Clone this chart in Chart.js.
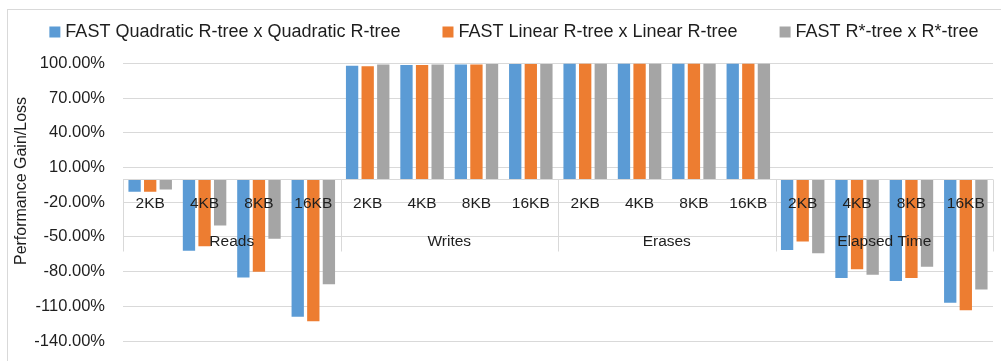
<!DOCTYPE html>
<html>
<head>
<meta charset="utf-8">
<script src="https://cdn.jsdelivr.net/npm/chart.js@4/dist/chart.umd.min.js"></script>
<style>
  html, body { margin: 0; padding: 0; background: #fff; }
  #wrap { width: 1001px; height: 361px; }
</style>
</head>
<body>
<div id="wrap"><canvas id="perfChart"></canvas></div>
<script>
  // categories: block size inside each operation
  const sizes = ['2KB', '4KB', '8KB', '16KB'];
  const groups = ['Reads', 'Writes', 'Erases', 'Elapsed Time'];

  // performance gain/loss per configuration (%)
  const quadratic = [-11, -62, -85, -119, 98, 98.7, 99.2, 99.6, 100, 100, 100, 100, -61.3, -85.6, -88.2, -107];
  const linear = [-11, -58, -80, -123, 97.7, 98.7, 99.2, 99.6, 100, 100, 100, 100, -54, -78, -85.6, -113.4];
  const rstar = [-9, -40, -51.5, -91, 99.1, 99.2, 99.6, 99.6, 100, 100, 100, 100, -64.2, -82.7, -75.8, -95.4];

  const seriesNames = ['FAST Quadratic R-tree x Quadratic R-tree', 'FAST Linear R-tree x Linear R-tree', 'FAST R*-tree x R*-tree'];
  const seriesColors = ['#5b9bd5', '#ed7d31', '#a5a5a5'];
  const yTicks = [-140, -110, -80, -50, -20, 10, 40, 70, 100];

  const labels = [];
  groups.forEach(g => sizes.forEach(s => labels.push(s)));

  const FONT = '"Liberation Sans", Arial, sans-serif';
  const TEXT = '#1e1e1e';
  const GRID = '#d9d9d9';

  // one-row legend, centred above the plot
  const legendRow = {
    id: 'legendRow',
    afterDraw(chart) {
      const ctx = chart.ctx;
      ctx.save();
      ctx.font = '18px ' + FONT;
      ctx.textBaseline = 'middle';
      const box = 11, gap = 5, spacing = 42;
      const widths = seriesNames.map(n => box + gap + ctx.measureText(n).width);
      const total = widths.reduce((a, b) => a + b, 0) + spacing * (widths.length - 1);
      let lx = 514 - total / 2;
      const ly = 32;
      seriesNames.forEach((n, i) => {
        ctx.fillStyle = seriesColors[i];
        ctx.fillRect(lx, ly - 5.5, box, box);
        ctx.fillStyle = TEXT;
        ctx.fillText(n, lx + box + gap, ly);
        lx += widths[i] + spacing;
      });
      ctx.restore();
    }
  };

  // draws the two-level category axis on the zero line, plus frame and y title
  const categoryAxis = {
    id: 'categoryAxis',
    beforeDraw(chart) {
      const ctx = chart.ctx;
      ctx.save();
      ctx.strokeStyle = GRID;
      ctx.lineWidth = 1;
      ctx.strokeRect(7.5, 9.5, 1200, 500);
      ctx.restore();
    },
    afterDatasetsDraw(chart) {
      const { ctx, chartArea: { left, right }, scales: { x, y } } = chart;
      const y0 = Math.round(y.getPixelForValue(0)) + 0.5;
      const half = (x.getPixelForValue(1) - x.getPixelForValue(0)) / 2;
      ctx.save();
      ctx.strokeStyle = GRID;
      ctx.lineWidth = 1;
      ctx.beginPath();
      ctx.moveTo(left, y0);
      ctx.lineTo(right, y0);
      for (let g = 0; g <= groups.length; g++) {
        const px = g < groups.length
          ? x.getPixelForValue(g * sizes.length) - half
          : x.getPixelForValue(g * sizes.length - 1) + half;
        const sx = Math.round(px) + 0.5;
        ctx.moveTo(sx, y0);
        ctx.lineTo(sx, y0 + 72);
      }
      ctx.stroke();

      ctx.fillStyle = TEXT;
      ctx.textAlign = 'center';
      ctx.textBaseline = 'middle';
      ctx.font = '15.5px ' + FONT;
      labels.forEach((l, i) => {
        ctx.fillText(l, x.getPixelForValue(i), y0 + 24);
      });
      groups.forEach((g, gi) => {
        const a = x.getPixelForValue(gi * sizes.length);
        const b = x.getPixelForValue(gi * sizes.length + sizes.length - 1);
        ctx.fillText(g, (a + b) / 2, y0 + 62);
      });

      // y axis title
      ctx.translate(22, 181);
      ctx.rotate(-Math.PI / 2);
      ctx.font = '16px ' + FONT;
      ctx.fillText('Performance Gain/Loss', 0, 0);
      ctx.restore();
    }
  };

  new Chart(document.getElementById('perfChart'), {
    type: 'bar',
    data: {
      labels: labels,
      datasets: [
        { label: seriesNames[0], data: quadratic, backgroundColor: seriesColors[0] },
        { label: seriesNames[1], data: linear, backgroundColor: seriesColors[1] },
        { label: seriesNames[2], data: rstar, backgroundColor: seriesColors[2] }
      ]
    },
    options: {
      responsive: true,
      maintainAspectRatio: false,
      animation: false,
      datasets: {
        bar: { categoryPercentage: 0.86, barPercentage: 0.79 }
      },
      layout: { padding: { top: 63.5, right: 8, bottom: 0, left: 0 } },
      plugins: {
        legend: { display: false },
        tooltip: { enabled: false }
      },
      scales: {
        x: { display: false },
        y: {
          min: -140,
          max: 100,
          afterBuildTicks(scale) {
            scale.ticks = yTicks.map(v => ({ value: v }));
          },
          afterFit(scale) {
            scale.width = 123;
            scale.paddingTop = 0;
            scale.paddingBottom = 20;
          },
          grid: { color: GRID, drawTicks: false },
          border: { display: false },
          ticks: {
            padding: 18,
            color: TEXT,
            font: { family: FONT, size: 16.5 },
            callback: v => v.toFixed(2) + '%'
          }
        }
      }
    },
    plugins: [categoryAxis, legendRow]
  });
</script>
</body>
</html>
